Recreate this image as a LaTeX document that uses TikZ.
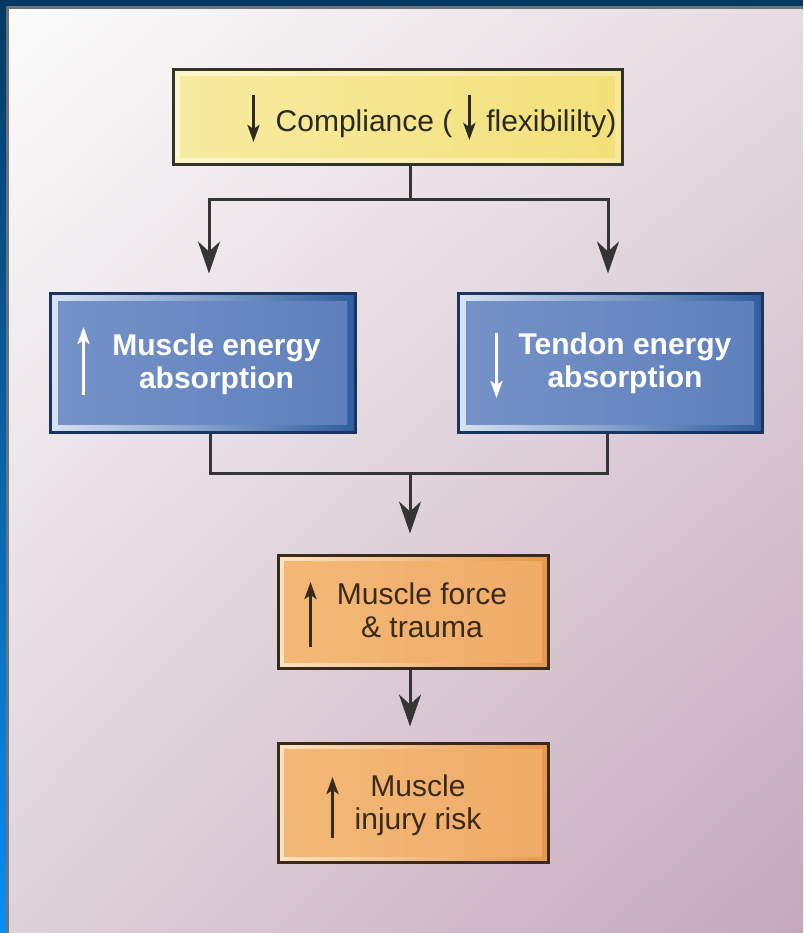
\documentclass[tikz,border=0pt]{standalone}
\usepackage{fontspec}
\setmainfont{Liberation Sans}
\usetikzlibrary{arrows.meta,calc,shadings}
\definecolor{navy}{HTML}{023A63}
\definecolor{bblue}{HTML}{0A8EF2}
\definecolor{fgray}{HTML}{6F7277}
\definecolor{bgUL}{HTML}{FCFCFC}
\definecolor{bgUR}{HTML}{E6DCE1}
\definecolor{bgLL}{HTML}{DFD2DA}
\definecolor{bgLR}{HTML}{C5A8BC}
\definecolor{conn}{HTML}{353535}
\definecolor{ylwOut}{HTML}{33332A}
\definecolor{ylwBand}{HTML}{FCF6CF}
\definecolor{ylwL}{HTML}{F7EBA0}
\definecolor{ylwR}{HTML}{F3E07A}
\definecolor{bluOut}{HTML}{1B3560}
\definecolor{bluBandL}{HTML}{D9E3F4}
\definecolor{bluBandR}{HTML}{2F5E9F}
\definecolor{bluL}{HTML}{7592C8}
\definecolor{bluR}{HTML}{5F80BC}
\definecolor{orgOut}{HTML}{3A2A1A}
\definecolor{orgBandL}{HTML}{FDE4C2}
\definecolor{orgBandR}{HTML}{E6974C}
\definecolor{orgL}{HTML}{F3B876}
\definecolor{orgR}{HTML}{F0AC68}
\definecolor{ytext}{HTML}{2A2A22}
\definecolor{otext}{HTML}{3A2A1C}
\tikzset{
  bevelbox/.style n args={6}{rectangle, draw=#1, line width=3pt, inner sep=0pt,
    path picture={
      \shade[left color=#2, right color=#3]
        (path picture bounding box.north west) rectangle (path picture bounding box.south east);
      \shade[left color=#4, right color=#5]
        ($(path picture bounding box.north west)+(#6,#6)$) rectangle
        ($(path picture bounding box.south east)+(-#6,-#6)$);
    }},
  ybox/.style={bevelbox={ylwOut}{ylwBand}{ylwR!60!ylwBand}{ylwL}{ylwR}{7}},
  bbox/.style={bevelbox={bluOut}{bluBandL}{bluBandR}{bluL}{bluR}{8}},
  obox/.style={bevelbox={orgOut}{orgBandL}{orgBandR}{orgL}{orgR}{6}},
  txt/.style={font=\fontsize{30}{33}\selectfont, align=center, inner sep=0pt},
  ytxt/.style={txt, text=ytext},
  btxt/.style={txt, text=white, font=\fontsize{30}{33}\selectfont\bfseries},
  otxt/.style={txt, text=otext},
  link/.style={draw=conn, line width=3pt},
  arr/.style={link, -{Stealth[length=32pt,width=22pt,inset=10pt]}},
  tarr/.style={draw=#1, line width=3pt, -{Stealth[length=17pt,width=12pt,inset=4pt]}},
}
\begin{document}
\begin{tikzpicture}[x=1pt,y=-1pt]
\useasboundingbox (0,0) rectangle (803,933);
% background
\shade[upper left=bgUL, upper right=bgUR, lower left=bgLL, lower right=bgLR] (0,0) rectangle (803,933);
% frame
\fill[fgray] (5,5) rectangle (9,933);
\fill[fgray] (5,5) rectangle (803,9);
\shade[top color=navy, bottom color=bblue] (0,0) rectangle (6,933);
\fill[navy] (0,0) rectangle (803,6);

% boxes
\node[ybox, minimum width=449pt, minimum height=95pt] (comp) at (397.5,117.5) {};
\node[bbox, minimum width=305pt, minimum height=139pt] (mus) at (202.5,362.5) {};
\node[bbox, minimum width=304pt, minimum height=139pt] (ten) at (610,362.5) {};
\node[obox, minimum width=270pt, minimum height=113pt] (force) at (413,611.5) {};
\node[obox, minimum width=270pt, minimum height=119pt] (risk) at (413,802.5) {};

% texts
\node[ytxt, anchor=base west] (c1) at ($(comp.west)+(104,14.5)$) {Compliance (};
\node[ytxt, anchor=base east] (c2) at ($(comp.east)+(-7,14.5)$) {flexibililty)};
\node[btxt] (mt) at ($(mus.center)+(14,1.7)$) {Muscle energy\\absorption};
\node[btxt] (tt) at ($(ten.center)+(15,1.2)$) {Tendon energy\\absorption};
\node[otxt] (ft) at ($(force.center)+(9,-1)$) {Muscle force\\\& trauma};
\node[otxt] (rt) at ($(risk.center)+(5,3.2)$) {Muscle\\injury risk};

% arrows inside the boxes
\draw[tarr=ytext] ($(c1.base west)+(-22,-37)$) -- ($(c1.base west)+(-22,10)$);
\draw[tarr=ytext] ($(c1.base east)!0.5!(c2.base west)+(0,-37)$) -- ($(c1.base east)!0.5!(c2.base west)+(0,8)$);
\draw[tarr=white] ($(mus.west)+(35,32.5)$) -- ($(mus.west)+(35,-35.5)$);
\draw[tarr=white] ($(ten.west)+(40,-29.5)$) -- ($(ten.west)+(40,35.5)$);
\draw[tarr=otext] ($(force.west)+(34,35.5)$) -- ($(force.west)+(34,-29.5)$);
\draw[tarr=otext] ($(risk.west)+(56,35.5)$) -- ($(risk.west)+(56,-25.5)$);

% connectors
\coordinate (split) at (410,200);
\coordinate (merge) at (410,473);
\draw[link] (split |- comp.south) -- (split);
\draw[arr, shorten >=18pt] (split) -| ($(mus.north)+(6.5,0)$);
\draw[arr, shorten >=18pt] (split) -| ($(ten.north)+(-2,0)$);
\draw[link] ($(mus.south)+(7.5,0)$) |- (merge) -| ($(ten.south)+(-3,0)$);
\draw[arr, shorten >=20pt] (merge) -- (merge |- force.north);
\draw[arr, shorten >=15pt] (force.south -| merge) -- (risk.north -| merge);
\end{tikzpicture}
\end{document}
